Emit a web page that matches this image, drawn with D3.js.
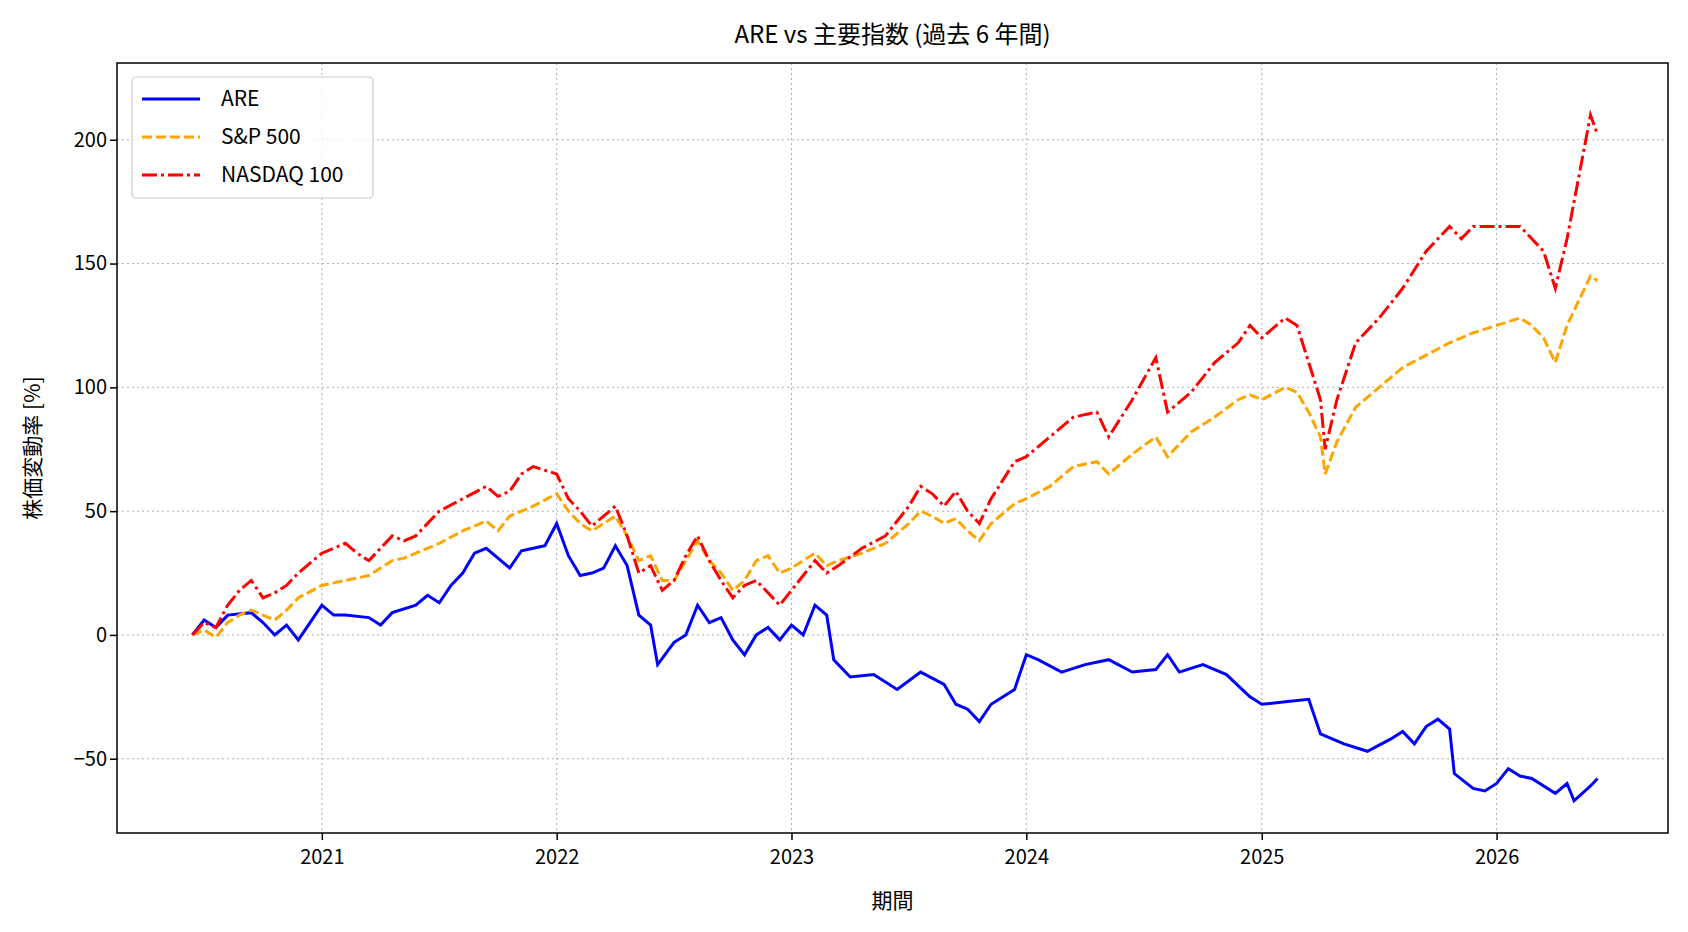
<!DOCTYPE html>
<html><head><meta charset="utf-8">
<script src="https://cdn.jsdelivr.net/npm/d3@7"></script>
<style>body{margin:0;background:#fff}text{font-family:"Noto Sans CJK JP",sans-serif}</style>
</head><body><svg id="c" width="1688" height="932"></svg>
<script>
const areT = [2020.45,2020.5,2020.55,2020.6,2020.7,2020.75,2020.8,2020.85,2020.9,2020.95,2021.0,2021.05,2021.1,2021.2,2021.25,2021.3,2021.4,2021.45,2021.5,2021.55,2021.6,2021.65,2021.7,2021.75,2021.8,2021.85,2021.9,2021.95,2022.0,2022.05,2022.1,2022.15,2022.2,2022.25,2022.3,2022.35,2022.4,2022.43,2022.5,2022.55,2022.6,2022.65,2022.7,2022.75,2022.8,2022.85,2022.9,2022.95,2023.0,2023.05,2023.1,2023.15,2023.18,2023.25,2023.35,2023.45,2023.55,2023.65,2023.7,2023.75,2023.8,2023.85,2023.95,2024.0,2024.05,2024.15,2024.25,2024.35,2024.45,2024.55,2024.6,2024.65,2024.75,2024.85,2024.95,2025.0,2025.1,2025.2,2025.25,2025.35,2025.45,2025.55,2025.6,2025.65,2025.7,2025.75,2025.8,2025.82,2025.9,2025.95,2026.0,2026.05,2026.1,2026.15,2026.25,2026.3,2026.33,2026.4,2026.43];
const areV = [0,6,3,8,9,5,0,4,-2,5,12,8,8,7,4,9,12,16,13,20,25,33,35,31,27,34,35,36,45,32,24,25,27,36,28,8,4,-12,-3,0,12,5,7,-2,-8,0,3,-2,4,0,12,8,-10,-17,-16,-22,-15,-20,-28,-30,-35,-28,-22,-8,-10,-15,-12,-10,-15,-14,-8,-15,-12,-16,-25,-28,-27,-26,-40,-44,-47,-42,-39,-44,-37,-34,-38,-56,-62,-63,-60,-54,-57,-58,-64,-60,-67,-61,-58];
const idxT = [2020.45,2020.5,2020.55,2020.6,2020.65,2020.7,2020.75,2020.8,2020.85,2020.9,2021.0,2021.1,2021.15,2021.2,2021.3,2021.35,2021.4,2021.5,2021.6,2021.7,2021.75,2021.8,2021.85,2021.9,2022.0,2022.05,2022.1,2022.15,2022.25,2022.3,2022.35,2022.4,2022.45,2022.5,2022.55,2022.6,2022.65,2022.7,2022.75,2022.8,2022.85,2022.9,2022.95,2023.0,2023.1,2023.15,2023.2,2023.3,2023.4,2023.5,2023.55,2023.6,2023.65,2023.7,2023.75,2023.8,2023.85,2023.95,2024.0,2024.1,2024.2,2024.3,2024.35,2024.45,2024.55,2024.6,2024.7,2024.8,2024.9,2024.95,2025.0,2025.1,2025.15,2025.2,2025.25,2025.27,2025.32,2025.4,2025.5,2025.6,2025.7,2025.8,2025.85,2025.9,2026.0,2026.1,2026.15,2026.2,2026.25,2026.3,2026.35,2026.4,2026.43];
const spxV = [0,2,-1,5,8,10,8,6,10,15,20,22,23,24,30,31,33,37,42,46,42,48,50,52,57,50,45,42,48,40,30,32,22,22,30,38,30,25,18,22,30,32,25,27,33,28,30,33,37,45,50,48,45,47,42,38,45,53,55,60,68,70,65,73,80,72,82,88,95,97,95,100,98,90,80,65,78,92,100,108,113,118,120,122,125,128,125,120,110,125,135,145,143];
const ndxV = [0,5,3,12,18,22,15,17,20,25,33,37,33,30,40,38,40,50,55,60,56,58,65,68,65,55,50,44,52,40,25,28,18,22,32,40,30,22,15,20,22,17,12,18,30,25,28,35,40,52,60,57,52,58,50,45,55,70,72,80,88,90,80,95,112,90,98,110,118,125,120,128,125,110,95,75,95,118,128,140,155,165,160,165,165,165,160,155,140,160,185,210,202];
const yTicks = [-50,0,50,100,150,200];
const years = [2021,2022,2023,2024,2025,2026];

const toDate = t => { const y = Math.floor(t); const s = new Date(y,0,1), e = new Date(y+1,0,1); return new Date(+s + (t-y)*(e-s)); };
const series = [
  {name:'ARE', t:areT, v:areV, color:'#0000ff', dash:null},
  {name:'S&P 500', t:idxT, v:spxV, color:'#ffa500', dash:'10,4'},
  {name:'NASDAQ 100', t:idxT, v:ndxV, color:'#ff0000', dash:'15,4,3,4'}
];

const m = {left:117, top:63, right:1668, bottom:833};
const svg = d3.select('#c');
const x = d3.scaleTime().domain([toDate(2020.13), toDate(2026.73)]).range([m.left, m.right]);
const y = d3.scaleLinear().domain([-80, 231]).range([m.bottom, m.top]);

const g = svg.append('g');
g.selectAll('.gx').data(years).enter().append('line')
  .attr('x1', d => x(new Date(d,0,1))).attr('x2', d => x(new Date(d,0,1)))
  .attr('y1', m.top).attr('y2', m.bottom).attr('stroke','#b0b0b0').attr('stroke-dasharray','2,3').attr('stroke-width',1);
g.selectAll('.gy').data(yTicks).enter().append('line')
  .attr('y1', d => y(d)).attr('y2', d => y(d))
  .attr('x1', m.left).attr('x2', m.right).attr('stroke','#b0b0b0').attr('stroke-dasharray','2,3').attr('stroke-width',1);

const line = d3.line().x(d => x(d[0])).y(d => y(d[1]));
series.forEach(s => {
  g.append('path').datum(s.t.map((t,i) => [toDate(t), s.v[i]]))
    .attr('d', line).attr('fill','none').attr('stroke', s.color).attr('stroke-width',3)
    .attr('stroke-dasharray', s.dash);
});

svg.append('g').attr('transform',`translate(0,${m.bottom})`)
  .call(d3.axisBottom(x).tickValues(years.map(d => new Date(d,0,1))).tickFormat(d3.timeFormat('%Y')).tickSize(7))
  .call(a => a.selectAll('text').attr('font-size',20).attr('dy','1.05em').attr('font-family','"Noto Sans CJK JP"'))
  .call(a => a.selectAll('line').attr('stroke-width',1.5))
  .call(a => a.select('.domain').remove());
svg.append('g').attr('transform',`translate(${m.left},0)`)
  .call(d3.axisLeft(y).tickValues(yTicks).tickSize(7))
  .call(a => a.selectAll('text').attr('font-size',20).attr('font-family','"Noto Sans CJK JP"'))
  .call(a => a.selectAll('line').attr('stroke-width',1.5))
  .call(a => a.select('.domain').remove());
svg.append('rect').attr('x',m.left).attr('y',m.top).attr('width',m.right-m.left).attr('height',m.bottom-m.top)
  .attr('fill','none').attr('stroke','#000').attr('stroke-width',1.5);

svg.append('text').attr('x',(m.left+m.right)/2).attr('y',43).attr('text-anchor','middle').attr('font-size',24).text('ARE vs 主要指数 (過去 6 年間)');
svg.append('text').attr('x',(m.left+m.right)/2).attr('y',908).attr('text-anchor','middle').attr('font-size',21).text('期間');
svg.append('text').attr('transform',`translate(40,${(m.top+m.bottom)/2}) rotate(-90)`).attr('text-anchor','middle').attr('font-size',21).text('株価変動率 [%]');

const lg = svg.append('g');
lg.append('rect').attr('x',132).attr('y',77).attr('width',241).attr('height',121).attr('rx',4)
  .attr('fill','#fff').attr('fill-opacity',0.8).attr('stroke','#ccc').attr('stroke-width',1.2);
series.forEach((s,i) => {
  const yy = 99 + i*38;
  lg.append('line').attr('x1',142).attr('x2',200).attr('y1',yy).attr('y2',yy)
    .attr('stroke',s.color).attr('stroke-width',3).attr('stroke-dasharray',s.dash);
  lg.append('text').attr('x',221).attr('y',yy+7).attr('font-size',21).text(s.name);
});
</script></body></html>
